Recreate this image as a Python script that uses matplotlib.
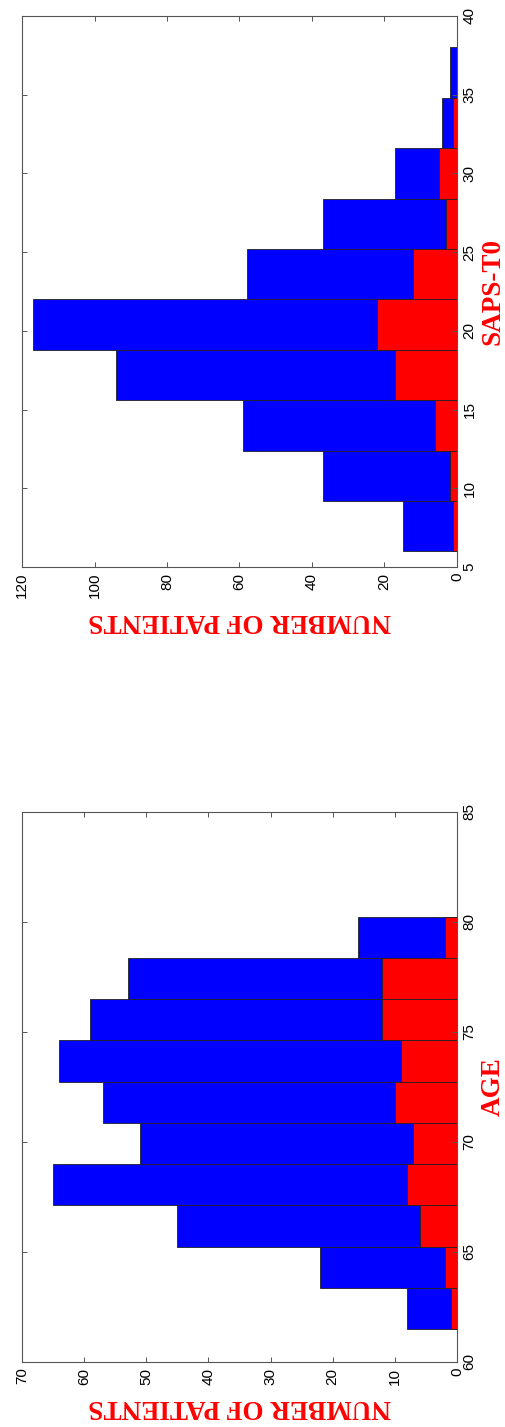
import numpy as np
import matplotlib
matplotlib.use("Agg")
import matplotlib.pyplot as plt

# SAPS-T0 histogram (10 bins from 6 to 38)
saps_range = (6, 38)
saps_all = [15, 37, 59, 94, 117, 58, 37, 17, 4, 2]
saps_sub = [1, 2, 6, 17, 22, 12, 3, 5, 1, 0]
saps_ticks = [5, 10, 15, 20, 25, 30, 35, 40]
saps_count_ticks = [0, 20, 40, 60, 80, 100, 120]

# AGE histogram (10 bins from 61.5 to 80.25)
age_range = (61.5, 80.25)
age_all = [8, 22, 45, 65, 51, 57, 64, 59, 53, 16]
age_sub = [1, 2, 6, 8, 7, 10, 9, 12, 12, 2]
age_ticks = [60, 65, 70, 75, 80, 85]
age_count_ticks = [0, 10, 20, 30, 40, 50, 60, 70]

plt.rcParams['font.family'] = ['Liberation Sans', 'DejaVu Sans']

fig = plt.figure(figsize=(5.06, 14.27), dpi=100)
W, H = 506.0, 1427.0


def rotated_hist(rect, rng, all_counts, sub_counts, vticks, cticks, vlabel, xlab_y):
    ax = fig.add_axes(rect)
    edges = np.linspace(rng[0], rng[1], len(all_counts) + 1)
    binw = edges[1] - edges[0]
    ax.barh(edges[:-1], all_counts, height=binw, align='edge',
            color='#0000ff', edgecolor='#222222', linewidth=0.6)
    ax.barh(edges[:-1], sub_counts, height=binw, align='edge',
            color='#ff0000', edgecolor='#222222', linewidth=0.6)
    ax.set_xlim(cticks[-1], cticks[0])
    ax.set_ylim(vticks[0], vticks[-1])
    ax.set_xticks(cticks)
    ax.set_yticks(vticks)
    ax.tick_params(axis='both', direction='in', length=3.5, width=0.7,
                   color='#555555', labelsize=11, top=True, bottom=True,
                   left=True, right=True, labelleft=False, labelright=True,
                   pad=4)
    for t in ax.get_xticklabels():
        t.set_rotation(90)
    for t in ax.get_yticklabels():
        t.set_rotation(90)
        t.set_verticalalignment('center')
    for s in ax.spines.values():
        s.set_color('#555555')
        s.set_linewidth(0.8)

    lab_font = dict(family=['Liberation Serif', 'DejaVu Serif'], weight='bold',
                    size=19.5, color='red')
    ax.set_xlabel('NUMBER OF PATIENTS', rotation=180, **lab_font)
    ax.xaxis.label.set_verticalalignment('center')
    ax.xaxis.set_label_coords(0.5, xlab_y)
    ax.yaxis.set_label_position('right')
    ax.set_ylabel(vlabel, **lab_font)
    ax.yaxis.label.set_rotation(90)
    ax.yaxis.label.set_rotation_mode('default')
    ax.yaxis.label.set_verticalalignment('center')
    ax.yaxis.label.set_horizontalalignment('center')
    ax.yaxis.set_label_coords((493 - 22) / 435.0, 0.5)
    return ax


rotated_hist([22 / W, 1 - 567 / H, 435 / W, 551 / H], saps_range,
             saps_all, saps_sub, saps_ticks, saps_count_ticks, 'SAPS-T0',
             -(620 - 567) / 551.0)
rotated_hist([22 / W, 1 - 1362 / H, 435 / W, 550 / H], age_range,
             age_all, age_sub, age_ticks, age_count_ticks, 'AGE',
             -(1407 - 1362) / 550.0)

fig.savefig('out.png', dpi=100)
